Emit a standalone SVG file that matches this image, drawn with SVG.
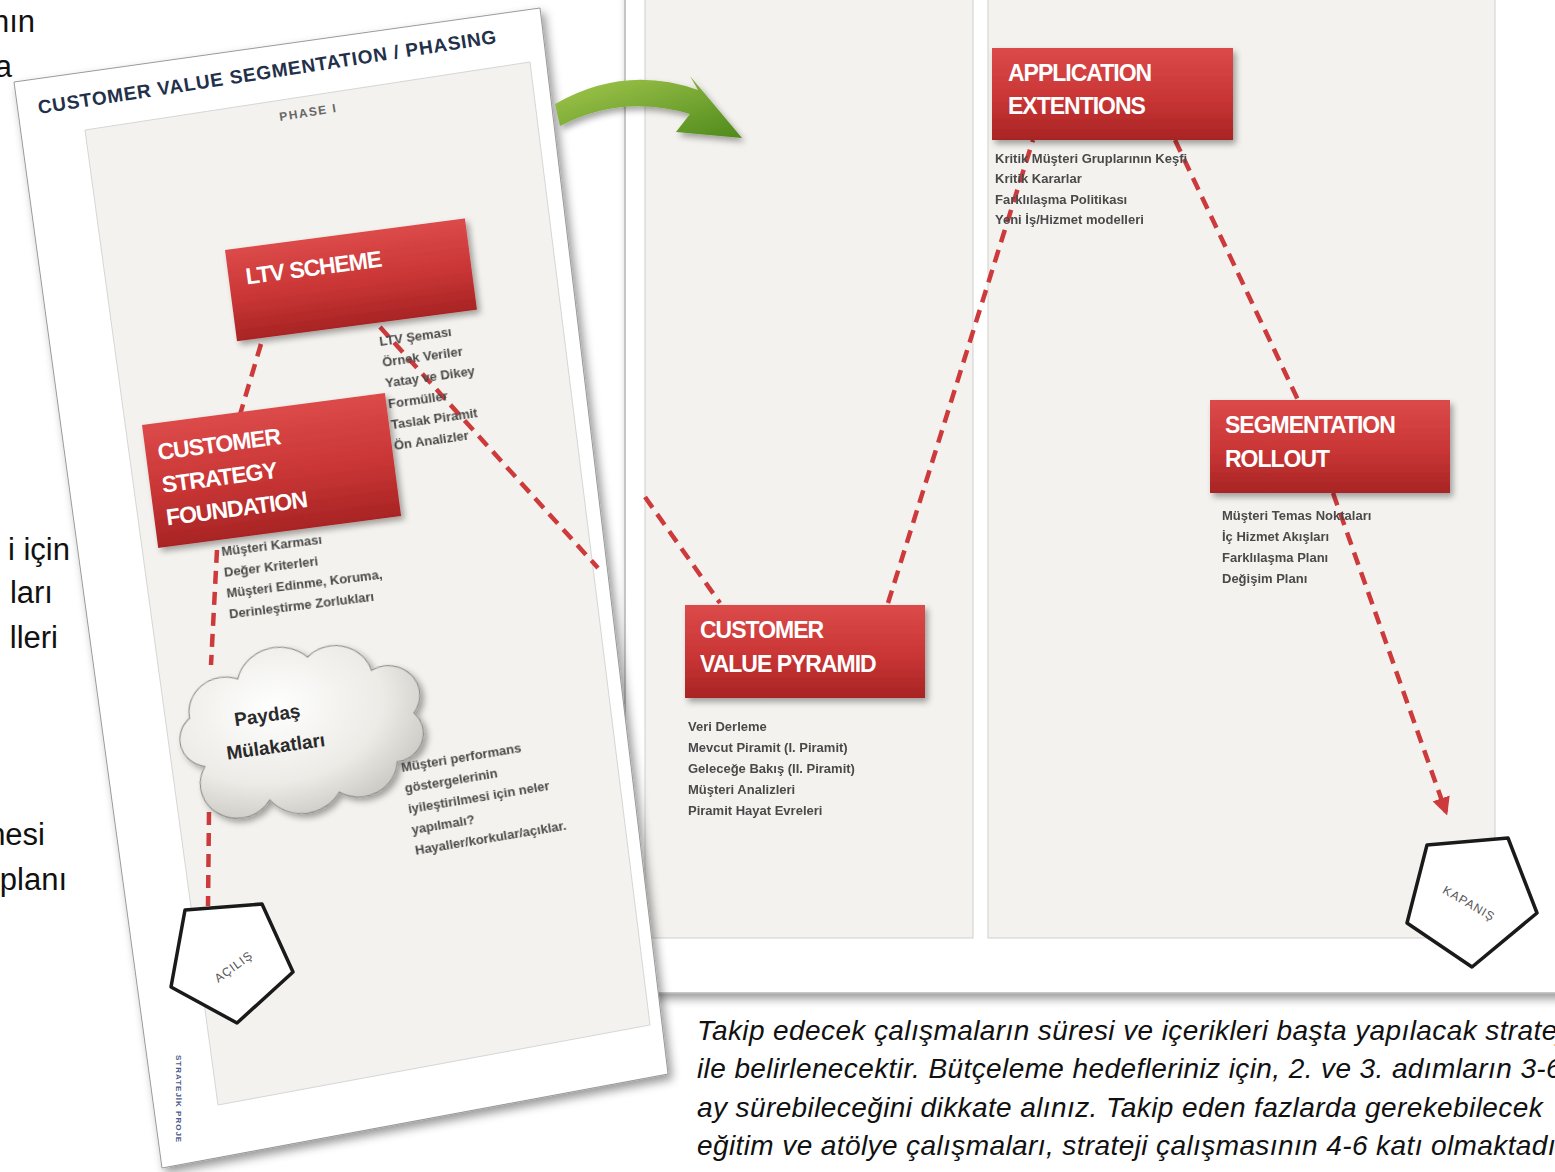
<svg xmlns="http://www.w3.org/2000/svg" width="1555" height="1172" viewBox="0 0 1555 1172">
<defs>
<style>
.frag{font-family:"Liberation Sans",Arial,sans-serif;font-size:31px;fill:#111;text-anchor:end}
.boxt{font-family:"Liberation Sans",Arial,sans-serif;font-weight:700;font-size:23px;fill:#fff;letter-spacing:-1px}
.list{font-family:"Liberation Sans",Arial,sans-serif;font-weight:700;font-size:13px;fill:#4a4a4a}
.dash{fill:none;stroke:#cc3a3c;stroke-width:4.5;stroke-dasharray:13 8}
.pent{fill:#fff;stroke:#1a1a1a;stroke-width:3.5;stroke-linejoin:round}
.pentt{font-family:"Liberation Sans",Arial,sans-serif;font-size:12px;fill:#555;text-anchor:middle;letter-spacing:1px}
.note{font-family:"Liberation Sans",Arial,sans-serif;font-style:italic;font-size:28px;fill:#111;letter-spacing:0.4px}
.col{fill:#f4f2ee;stroke:#cfcfcf;stroke-width:1}
</style>
<linearGradient id="red" x1="0" y1="0" x2="0" y2="1">
<stop offset="0" stop-color="#dc4a4a"/>
<stop offset="0.55" stop-color="#c93535"/>
<stop offset="1" stop-color="#a82424"/>
</linearGradient>
<linearGradient id="green" x1="0" y1="0" x2="1" y2="1">
<stop offset="0" stop-color="#a5c94e"/>
<stop offset="1" stop-color="#4f8a1c"/>
</linearGradient>
<radialGradient id="cloud" cx="0.4" cy="0.35" r="0.75">
<stop offset="0" stop-color="#ffffff"/>
<stop offset="0.6" stop-color="#ecebe6"/>
<stop offset="1" stop-color="#c4c2bb"/>
</radialGradient>
<filter id="sh" x="-10%" y="-10%" width="130%" height="130%">
<feDropShadow dx="3" dy="4" stdDeviation="3" flood-color="#000" flood-opacity="0.35"/>
</filter>
<filter id="pshadow" x="-10%" y="-5%" width="125%" height="115%">
<feDropShadow dx="4" dy="5" stdDeviation="5" flood-color="#000" flood-opacity="0.4"/>
</filter>
<filter id="soft"><feGaussianBlur stdDeviation="0.45"/></filter>
<marker id="arr" viewBox="0 0 10 10" refX="8" refY="5" markerWidth="4" markerHeight="4" orient="auto">
<path d="M0,0 L10,5 L0,10 Z" fill="#cc3a3c"/>
</marker>
</defs>
<rect width="1555" height="1172" fill="#fff"/>

<!-- left text fragments -->
<g id="fragments">
<text class="frag" x="35" y="32">nın</text>
<text class="frag" x="12" y="77">a</text>
<text class="frag" x="70" y="560">i için</text>
<text class="frag" x="53" y="603">ları</text>
<text class="frag" x="58" y="648">lleri</text>
<text class="frag" x="45" y="845">nesi</text>
<text class="frag" x="67" y="890">planı</text>
</g>

<!-- right page -->
<g id="right-page">
<rect x="625" y="-10" width="950" height="1003" fill="#fff" stroke="#b5b5b5" stroke-width="1.5" filter="url(#pshadow)"/>
<rect class="col" x="645" y="-5" width="328" height="943"/>
<rect class="col" x="988" y="-5" width="507" height="943"/>
</g>

<!-- connectors on right page -->
<g id="connectors-right">
<line class="dash" x1="645" y1="497" x2="720" y2="603"/>
<line class="dash" x1="888" y1="603" x2="1033" y2="140"/>
<line class="dash" x1="1175" y1="140" x2="1298" y2="400"/>
<line class="dash" x1="1333" y1="493" x2="1446" y2="812" marker-end="url(#arr)"/>
</g>

<g id="application-extentions">
<rect x="992" y="48" width="241" height="92" fill="url(#red)" filter="url(#sh)"/>
<text class="boxt" x="1008" y="81">APPLICATION</text>
<text class="boxt" x="1008" y="114">EXTENTIONS</text>
<g class="list" filter="url(#soft)">
<text x="995" y="163">Kritik Müşteri Gruplarının Keşfi</text>
<text x="995" y="183">Kritik Kararlar</text>
<text x="995" y="204">Farklılaşma Politikası</text>
<text x="995" y="224">Yeni İş/Hizmet modelleri</text>
</g>
</g>

<g id="segmentation-rollout">
<rect x="1210" y="400" width="240" height="93" fill="url(#red)" filter="url(#sh)"/>
<text class="boxt" x="1225" y="433">SEGMENTATION</text>
<text class="boxt" x="1225" y="467">ROLLOUT</text>
<g class="list" filter="url(#soft)">
<text x="1222" y="520">Müşteri Temas Noktaları</text>
<text x="1222" y="541">İç Hizmet Akışları</text>
<text x="1222" y="562">Farklılaşma Planı</text>
<text x="1222" y="583">Değişim Planı</text>
</g>
</g>

<g id="customer-value-pyramid">
<rect x="685" y="605" width="240" height="93" fill="url(#red)" filter="url(#sh)"/>
<text class="boxt" x="700" y="638">CUSTOMER</text>
<text class="boxt" x="700" y="672">VALUE PYRAMID</text>
<g class="list" filter="url(#soft)">
<text x="688" y="731">Veri Derleme</text>
<text x="688" y="752">Mevcut Piramit (I. Piramit)</text>
<text x="688" y="773">Geleceğe Bakış (II. Piramit)</text>
<text x="688" y="794">Müşteri Analizleri</text>
<text x="688" y="815">Piramit Hayat Evreleri</text>
</g>
</g>

<g id="kapanis">
<polygon class="pent" points="1427,845 1508,838 1537,913 1472,967 1407,923"/>
<text class="pentt" transform="translate(1467,907) rotate(30)">KAPANIŞ</text>
</g>

<!-- left rotated page -->
<g id="left-page">
<polygon points="14,82 540,8 668,1074 162,1168" fill="#fff" stroke="#9a9a9a" stroke-width="1" filter="url(#pshadow)"/>
<polygon points="85,130 530,62 650,1025 218,1105" fill="#f4f2ee" stroke="#d6d6d6" stroke-width="1"/>
<text transform="translate(39,114) rotate(-8.8)" font-family="Liberation Sans, Arial, sans-serif" font-weight="700" font-size="19" fill="#23304a" letter-spacing="0.8">CUSTOMER VALUE SEGMENTATION / PHASING</text>
<text transform="translate(280,121) rotate(-9)" font-family="Liberation Sans, Arial, sans-serif" font-weight="700" font-size="12" fill="#666" letter-spacing="1.5">PHASE I</text>
<text transform="translate(176,1055) rotate(90)" font-family="Liberation Sans, Arial, sans-serif" font-weight="700" font-size="8" fill="#4a5a8a" letter-spacing="1">STRATEJİK PROJE</text>
</g>

<g id="connectors-left">
<line class="dash" x1="261" y1="344" x2="239" y2="418"/>
<line class="dash" x1="380" y1="327" x2="598" y2="568"/>
<line class="dash" x1="217" y1="550" x2="211" y2="665"/>
<line class="dash" x1="209" y1="812" x2="208" y2="906"/>
</g>

<g id="ltv-scheme">
<g transform="translate(225,250) rotate(-7.5)">
<rect width="242" height="92" fill="url(#red)" filter="url(#sh)"/>
<text class="boxt" x="17" y="37" font-size="24">LTV SCHEME</text>
</g>
<g class="list" transform="translate(380,346) rotate(-8)" filter="url(#soft)">
<text x="0" y="0">LTV Şeması</text>
<text x="0" y="21">Örnek Veriler</text>
<text x="0" y="42">Yatay ve Dikey</text>
<text x="0" y="63">Formüller</text>
<text x="0" y="84">Taslak Piramit</text>
<text x="0" y="105">Ön Analizler</text>
</g>
</g>

<g id="customer-strategy-foundation">
<g transform="translate(142,425) rotate(-7.5)">
<rect width="245" height="124" fill="url(#red)" filter="url(#sh)"/>
<text class="boxt" x="12" y="37" font-size="24">CUSTOMER</text>
<text class="boxt" x="12" y="70" font-size="24">STRATEGY</text>
<text class="boxt" x="12" y="103" font-size="24">FOUNDATION</text>
</g>
<g class="list" transform="translate(222,556) rotate(-7)" filter="url(#soft)">
<text x="0" y="0">Müşteri Karması</text>
<text x="0" y="21">Değer Kriterleri</text>
<text x="0" y="42">Müşteri Edinme, Koruma,</text>
<text x="0" y="63">Derinleştirme  Zorlukları</text>
</g>
</g>

<g id="paydas-cloud">
<g transform="translate(158,660) rotate(-8) scale(1.06,1.0)" filter="url(#sh)">
<path d="M30,112 A28,28 0 0 1 22,62 A34,34 0 0 1 72,30 A40,40 0 0 1 140,18 A36,36 0 0 1 198,40 A30,30 0 0 1 232,88 A28,28 0 0 1 210,134 A36,36 0 0 1 152,156 A40,40 0 0 1 86,154 A30,30 0 0 1 30,112 Z" fill="url(#cloud)" stroke="#8a8a8a" stroke-width="1"/>
</g>
<g transform="translate(280,720) rotate(-8)" font-family="Liberation Sans, Arial, sans-serif" font-weight="700" font-size="19" fill="#2a2a2a" text-anchor="middle">
<text x="-12" y="0">Paydaş</text>
<text x="-8" y="32">Mülakatları</text>
</g>
<g class="list" transform="translate(402,772) rotate(-9.5)" filter="url(#soft)">
<text x="0" y="0">Müşteri  performans</text>
<text x="0" y="21">göstergelerinin</text>
<text x="0" y="42">iyileştirilmesi   için neler</text>
<text x="0" y="63">yapılmalı?</text>
<text x="0" y="84">Hayaller/korkular/açıklar.</text>
</g>
</g>

<g id="acilis">
<polygon class="pent" points="185,910 262,904 293,972 237,1023 171,987"/>
<text class="pentt" transform="translate(236,970) rotate(-36)">AÇILIŞ</text>
</g>

<g id="green-arrow">
<path d="M555,104 Q625,64 698,90 L690,76 L742,138 L676,132 L690,114 Q622,94 560,126 Z" fill="url(#green)" filter="url(#sh)"/>
</g>

<g id="note">
<text class="note" x="697" y="1040">Takip edecek çalışmaların süresi ve içerikleri başta yapılacak strateji</text>
<text class="note" x="697" y="1078">ile belirlenecektir. Bütçeleme hedefleriniz için, 2. ve 3. adımların 3-6</text>
<text class="note" x="697" y="1117">ay sürebileceğini dikkate alınız. Takip eden fazlarda gerekebilecek</text>
<text class="note" x="697" y="1155">eğitim ve atölye çalışmaları, strateji çalışmasının 4-6 katı olmaktadır.</text>
</g>
</svg>
